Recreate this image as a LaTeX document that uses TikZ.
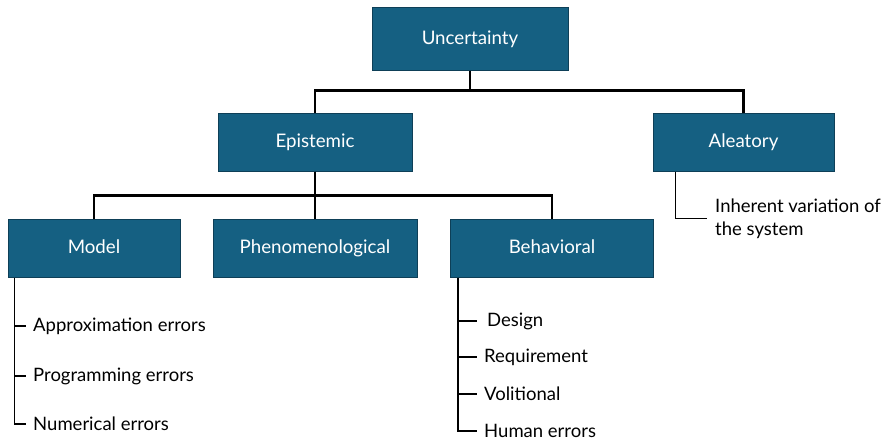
\documentclass[tikz,border=0pt]{standalone}
\usepackage{fontspec}
\setmainfont{Lato}
\definecolor{boxblue}{HTML}{156082}
\definecolor{boxedge}{HTML}{0E3F57}

\begin{document}
\begin{tikzpicture}[x=1pt, y=-1pt,
    category/.style={rectangle, fill=boxblue, draw=boxedge, line width=1pt,
      text=white, font=\fontsize{18.7}{23}\selectfont, minimum height=58pt,
      text height=2.3ex, text depth=0ex},
    item/.style={anchor=west, inner sep=2pt, font=\fontsize{18.5}{23}\selectfont,
      align=left},
    trunk/.style={line width=2.6pt},
    twig/.style={line width=1.2pt}]

  \useasboundingbox (0,0) rectangle (883,440);

  % ===== Category boxes =====
  \node[category, minimum width=196pt, minimum height=63pt] (unc) at (470,38.5) {Uncertainty};
  \node[category, minimum width=194pt] (epi) at (315,142) {Epistemic};
  \node[category, minimum width=181pt] (ale) at (743.5,142) {Aleatory};
  \node[category, minimum width=172pt] (mod) at (94,248) {Model};
  \node[category, minimum width=204pt] (phe) at (315,248) {Phenomenological};
  \node[category, minimum width=203pt] (beh) at (552,248) {Behavioral};

  % ===== Tree connectors =====
  \draw[trunk] (unc.south) -- ++(0,20) -| (epi.north);
  \draw[trunk] (unc.south) -- ++(0,20) -| (ale.north);
  \draw[trunk] (epi.south) -- ++(0,24) -| (mod.north);
  \draw[trunk] (epi.south) -- (phe.north);
  \draw[trunk] (epi.south) -- ++(0,24) -| (beh.north);

  % ===== Leaf items =====
  \node[item] (inh) at (713,218.5) {Inherent variation of\\the system};

  \node[item] (app) at (31,326) {Approximation errors};
  \node[item] (prg) at (31,376) {Programming errors};
  \node[item] (num) at (31,424) {Numerical errors};

  \node[item] (des) at (485,321) {Design};
  \node[item] (req) at (482,357) {Requirement};
  \node[item] (vol) at (482,394) {Volitional};
  \node[item] (hum) at (482,431) {Human errors};

  % ===== Leaf connectors =====
  \coordinate (aleroot) at ([xshift=23pt]ale.south west);
  \coordinate (modroot) at ([xshift=7pt]mod.south west);
  \coordinate (behroot) at ([xshift=8pt]beh.south west);

  \draw[twig] (aleroot) |- ([xshift=-6pt]inh.west);
  \draw[twig] (modroot) |- ([xshift=-5pt]num.west);
  \draw[twig] (modroot |- app.west) -- ([xshift=-5pt]app.west);
  \draw[twig] (modroot |- prg.west) -- ([xshift=-5pt]prg.west);
  \draw[twig] (behroot) |- ([xshift=-5pt]hum.west);
  \draw[twig] (behroot |- des.west) -- ([xshift=-8pt]des.west);
  \draw[twig] (behroot |- req.west) -- ([xshift=-5pt]req.west);
  \draw[twig] (behroot |- vol.west) -- ([xshift=-5pt]vol.west);

\end{tikzpicture}
\end{document}
